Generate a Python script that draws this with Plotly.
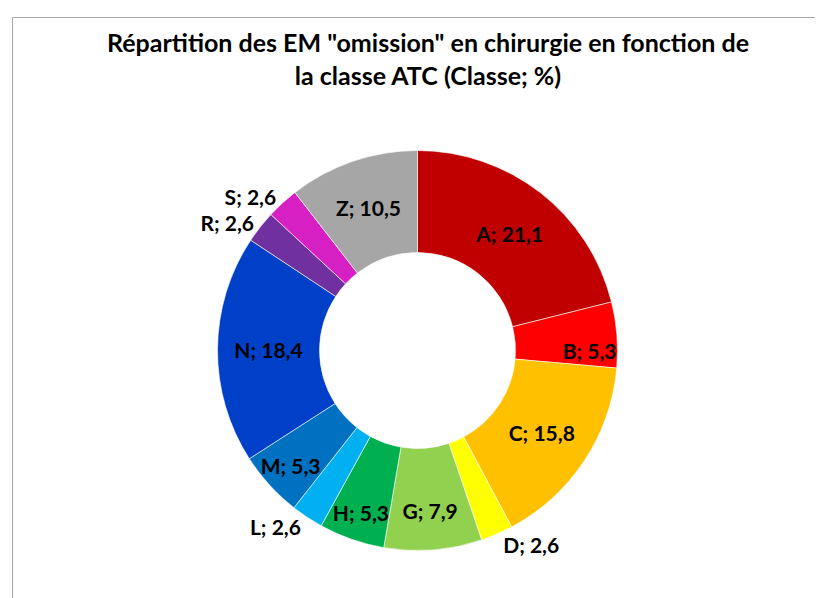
import plotly.graph_objects as go

labels = ["A", "B", "C", "D", "G", "H", "L", "M", "N", "R", "S", "Z"]
values = [21.1, 5.3, 15.8, 2.6, 7.9, 5.3, 2.6, 5.3, 18.4, 2.6, 2.6, 10.5]
colors = ["#C00000", "#FF0000", "#FFC000", "#FFFF00", "#92D050", "#00B050",
          "#00B0F0", "#0070C0", "#0040C8", "#7030A0", "#D620C4", "#A6A6A6"]
positions = ["inside", "inside", "inside", "outside", "inside", "inside",
             "outside", "inside", "inside", "outside", "outside", "inside"]

texts = [f"{l}; {str(v).replace('.', ',')}" for l, v in zip(labels, values)]

W, H = 823, 598
cx, cy, r = 409.5, 342.5, 200

fig = go.Figure(go.Pie(
    labels=labels,
    values=values,
    text=texts,
    textinfo="text",
    textposition=positions,
    insidetextorientation="horizontal",
    sort=False,
    direction="clockwise",
    rotation=0,
    hole=0.49,
    marker=dict(colors=colors, line=dict(color="white", width=0.6)),
    textfont=dict(family="Lato", size=21, color="black", weight="bold"),
    domain=dict(x=[(cx - r) / W, (cx + r) / W], y=[1 - (cy + r) / H, 1 - (cy - r) / H]),
    showlegend=False,
    hoverinfo="label+value",
))

fig.update_layout(
    width=W, height=H,
    margin=dict(l=0, r=0, t=0, b=0),
    paper_bgcolor="white",
    plot_bgcolor="white",
    uniformtext=dict(minsize=21, mode="show"),
    title=dict(
        text="Répartition des EM \"omission\" en chirurgie en fonction de<br>la classe ATC (Classe; %)",
        x=420 / W, xanchor="center",
        y=1 - 44 / H, yanchor="top",
        font=dict(family="Lato", size=25, color="black", weight="bold"),
    ),
    shapes=[dict(type="rect", xref="paper", yref="paper",
                 x0=4.5 / W, x1=1.01, y0=-0.01, y1=1 - 9.5 / H,
                 line=dict(color="#A6A6A6", width=1))],
)

fig.write_html("out.html")
